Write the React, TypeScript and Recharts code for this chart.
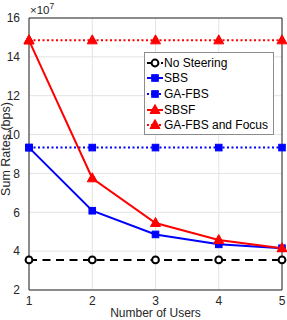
// App.tsx — sum rate vs number of users, MATLAB style line chart via Recharts

import { LineChart, Line, XAxis, YAxis, CartesianGrid, ReferenceLine } from "recharts";

const users = [1, 2, 3, 4, 5];
// values in units of 10^7 bps
const noSteering = [3.55, 3.55, 3.55, 3.55, 3.55];
const sbs = [9.33, 6.08, 4.86, 4.35, 4.15];
const gaFbs = [9.33, 9.33, 9.33, 9.33, 9.33];
const sbsf = [14.85, 7.75, 5.45, 4.57, 4.15];
const gaFbsFocus = [14.85, 14.85, 14.85, 14.85, 14.85];
const yTicks = [2, 4, 6, 8, 10, 12, 14, 16];

const data = users.map((u, i) => ({
    users: u,
    noSteering: noSteering[i],
    sbs: sbs[i],
    gaFbs: gaFbs[i],
    sbsf: sbsf[i],
    gaFbsFocus: gaFbsFocus[i],
}));

const FONT = "'Liberation Sans', Arial, Helvetica, sans-serif";
const TXT = "#262626";
const BLUE = "#0000ff";
const RED = "#ff0000";

type Shape = "circle" | "square" | "triangle";

function Marker({ cx, cy, shape, color }: { cx: number; cy: number; shape: Shape; color: string }) {
    if (cx == null || cy == null) return null;
    if (shape === "circle") {
        return <circle cx={cx} cy={cy} r={3.4} fill="#fff" stroke={color} strokeWidth={2} />;
    }
    if (shape === "square") {
        return <rect x={cx - 3.3} y={cy - 3.3} width={6.6} height={6.6} fill={color} stroke={color} strokeWidth={1} />;
    }
    return (
        <polygon
            points={`${cx},${cy - 5.5} ${cx + 5},${cy + 3.5} ${cx - 5},${cy + 3.5}`}
            fill={color}
            stroke={color}
            strokeWidth={1}
        />
    );
}

const dot = (shape: Shape, color: string) => (p: any) =>
    <Marker key={`${shape}-${color}-${p.index}-${p.dataKey}`} cx={p.cx} cy={p.cy} shape={shape} color={color} />;

const series = [
    { key: "noSteering", name: "No Steering", color: "#000", dash: "8 5.5", legendDash: "4 3", shape: "circle" as Shape },
    { key: "sbs", name: "SBS", color: BLUE, dash: undefined, legendDash: undefined, shape: "square" as Shape },
    { key: "gaFbs", name: "GA-FBS", color: BLUE, dash: "2 2.5", legendDash: "2 2", shape: "square" as Shape },
    { key: "sbsf", name: "SBSF", color: RED, dash: undefined, legendDash: undefined, shape: "triangle" as Shape },
    { key: "gaFbsFocus", name: "GA-FBS and Focus", color: RED, dash: "2 2.5", legendDash: "2 2", shape: "triangle" as Shape },
];

function LegendBox() {
    return (
        <div
            style={{
                position: "absolute",
                left: 144,
                top: 52,
                width: 130,
                height: 83,
                background: "#fff",
                border: "1px solid #8c8c8c",
                boxSizing: "border-box",
                fontFamily: FONT,
                fontSize: 12,
                color: "#000",
                paddingTop: 2,
            }}
        >
            {series.map((s) => (
                <div key={s.key} style={{ display: "flex", alignItems: "center", height: 15.6 }}>
                    <svg width={18} height={14} style={{ marginLeft: 1 }}>
                        <line x1={1} y1={7} x2={17} y2={7} stroke={s.color} strokeWidth={2} strokeDasharray={s.legendDash} />
                        <Marker cx={9} cy={7} shape={s.shape} color={s.color} />
                    </svg>
                    <span>{s.name}</span>
                </div>
            ))}
        </div>
    );
}

export default function App() {
    return (
        <div style={{ position: "absolute", left: 0, top: 0, width: 287, height: 320, background: "#fff" }}>
            <LineChart
                width={287}
                height={320}
                data={data}
                margin={{ top: 18, right: 5, left: 0, bottom: 0 }}
                style={{ fontFamily: FONT }}
            >
                <CartesianGrid stroke="#e3e3e3" strokeWidth={1} />
                <XAxis
                    dataKey="users"
                    type="number"
                    domain={[1, 5]}
                    ticks={users}
                    height={30}
                    stroke="#262626"
                    tickLine={false}
                    tick={{ fontSize: 12, fill: TXT }}
                    tickMargin={0}
                />
                <YAxis
                    type="number"
                    domain={[2, 16]}
                    ticks={yTicks}
                    width={29}
                    stroke="#262626"
                    tickLine={false}
                    interval={0}
                    tick={{ fontSize: 12, fill: TXT }}
                    tickMargin={3}
                />
                <ReferenceLine y={16} stroke="#262626" strokeWidth={1} />
                <ReferenceLine x={5} stroke="#262626" strokeWidth={1} />
                {series.map((s) => (
                    <Line
                        key={s.key}
                        type="linear"
                        dataKey={s.key}
                        name={s.name}
                        stroke={s.color}
                        strokeWidth={2}
                        strokeDasharray={s.dash}
                        dot={dot(s.shape, s.color)}
                        activeDot={false}
                        isAnimationActive={false}
                    />
                ))}
            </LineChart>
            <svg
                width={287}
                height={320}
                style={{ position: "absolute", left: 0, top: 0, pointerEvents: "none", fontFamily: FONT }}
            >
                <text x={155.5} y={317} textAnchor="middle" fontSize={12} fill={TXT}>Number of Users</text>
                <text x={10} y={149} textAnchor="middle" fontSize={12.5} fill={TXT} transform="rotate(-90 10 149)">
                    Sum Rates (bps)
                </text>
                <text x={30} y={13.5} fontSize={11.5} fill={TXT}>
                    ×10<tspan dy={-5} fontSize={8.5}>7</tspan>
                </text>
            </svg>
            <LegendBox />
        </div>
    );
}
